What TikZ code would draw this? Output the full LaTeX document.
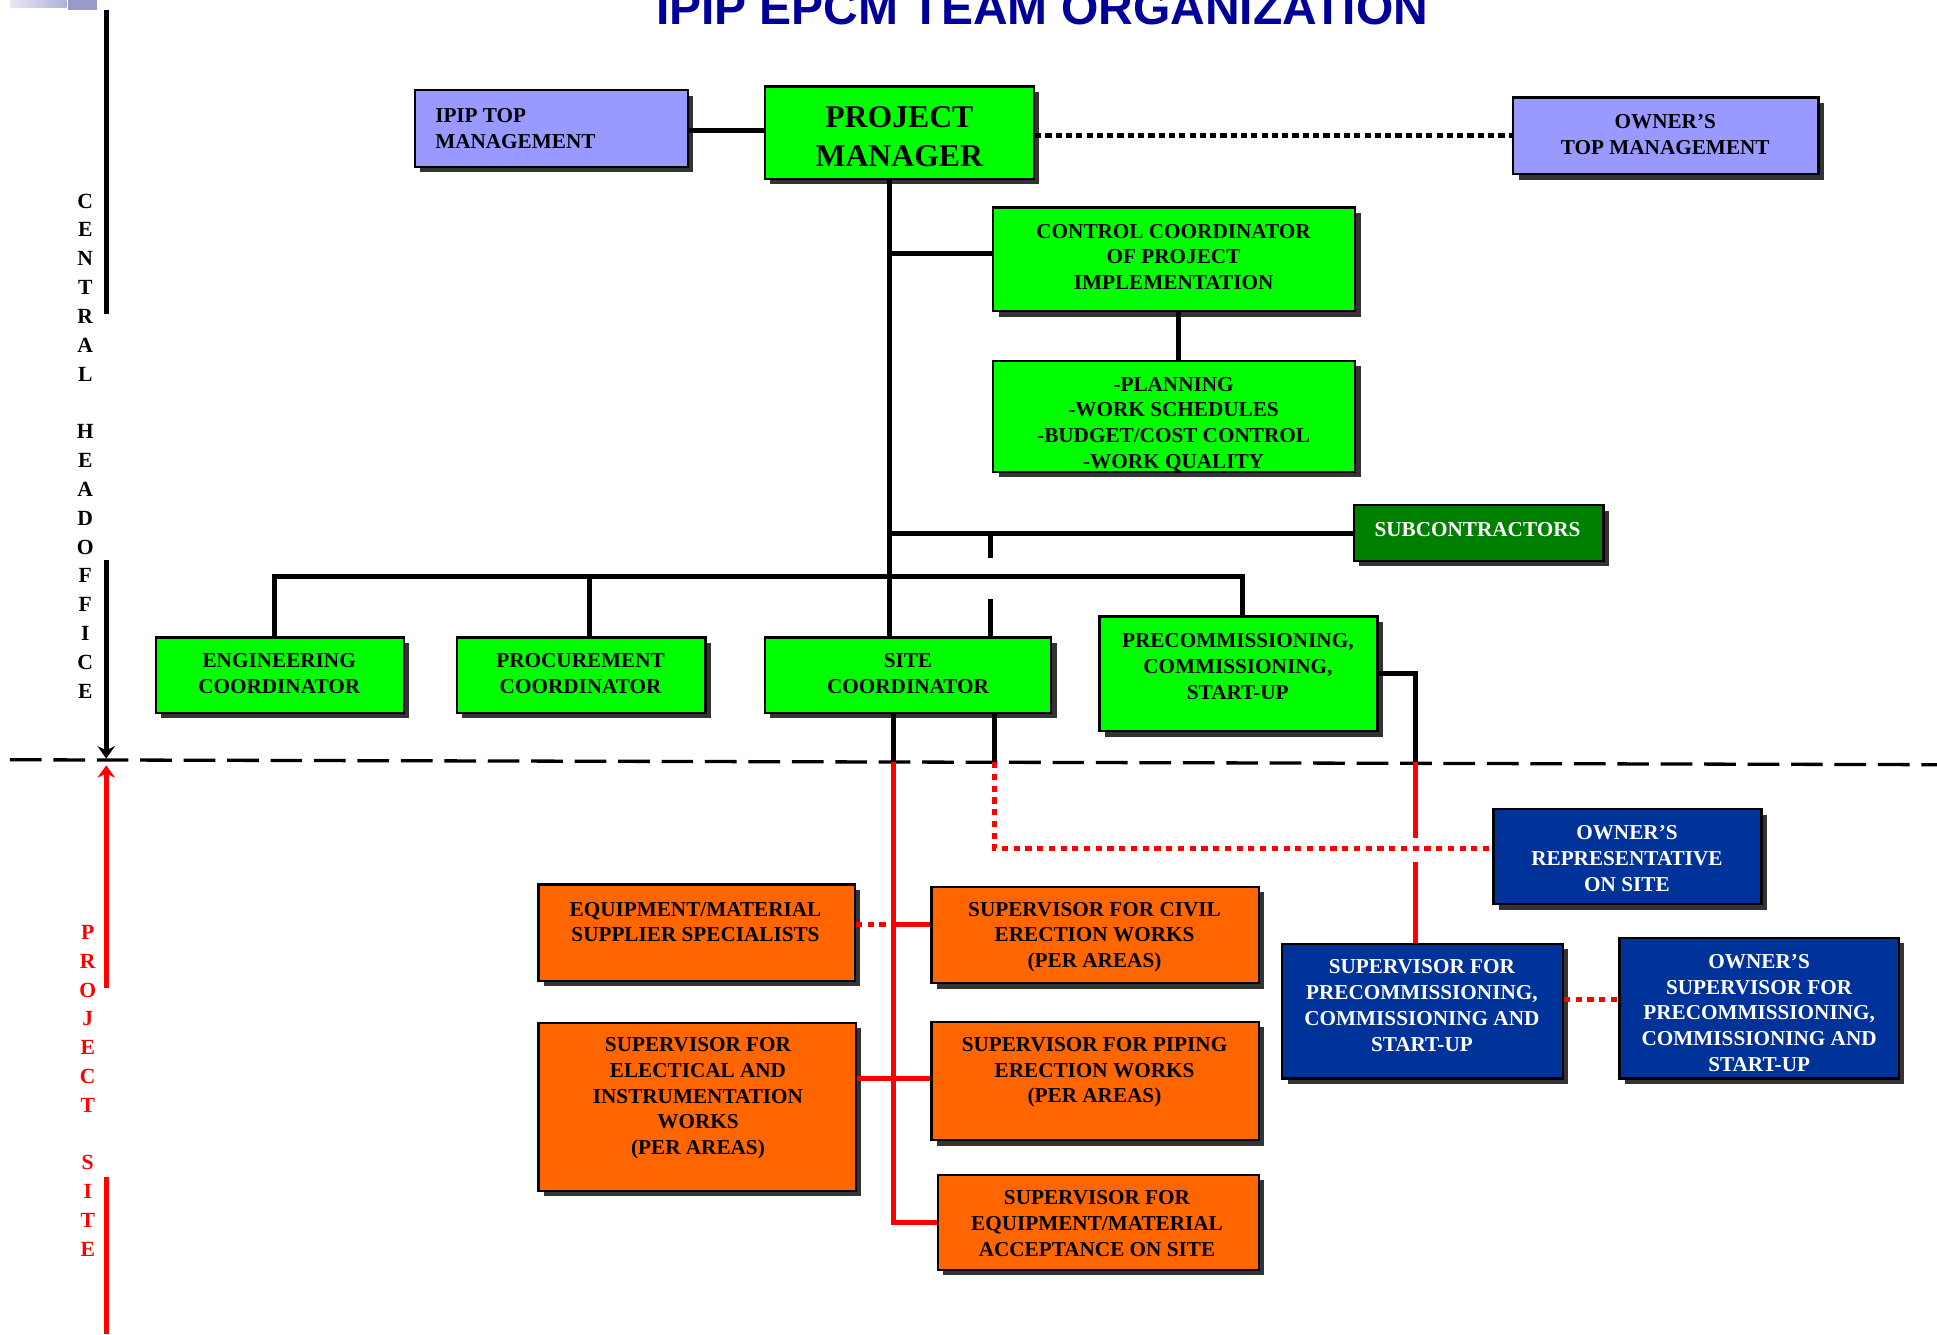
\documentclass[tikz,border=0pt]{standalone}
\usepackage{fontspec}
\setmainfont{Liberation Serif}
\newfontfamily\titlefont{Liberation Sans}
\usetikzlibrary{arrows.meta,shadows,fit}
\definecolor{lav}{HTML}{9999FF}
\definecolor{bgreen}{HTML}{00FF00}
\definecolor{dgreen}{HTML}{008000}
\definecolor{orng}{HTML}{FF6600}
\definecolor{oblue}{HTML}{003399}
\definecolor{tblue}{HTML}{000099}
\definecolor{shad}{HTML}{333333}
\definecolor{ored}{HTML}{FF0000}
\definecolor{decoA}{HTML}{E8E8F6}
\definecolor{decoB}{HTML}{B0B0DC}
\definecolor{decoC}{HTML}{9999CC}
\begin{document}
\begin{tikzpicture}[x=0.6pt,y=-0.6pt,
  orgbox/.style={draw=black, line width=1.1pt, inner sep=0pt,
    drop shadow={shadow xshift=2.6pt, shadow yshift=-2.6pt, fill=shad, opacity=1}},
  gbox/.style={orgbox, fill=bgreen},
  lbox/.style={orgbox, fill=lav},
  dbox/.style={orgbox, fill=dgreen},
  obox/.style={orgbox, fill=orng},
  bbox/.style={orgbox, fill=oblue},
  txt/.style={font={\fontsize{10.3}{12.5}\selectfont\bfseries}, align=center, inner sep=0pt},
  wtxt/.style={txt, text=white},
  bigtxt/.style={font={\fontsize{15.4}{18.6}\selectfont\bfseries}, align=center, inner sep=0pt},
  sidetxt/.style={font={\fontsize{10.5}{14}\selectfont\bfseries}, align=center, inner sep=0pt},
  conn/.style={line width=2.4pt, black},
  rconn/.style={line width=2.4pt, ored},
  bdot/.style={line width=2.4pt, black, dash pattern=on 3pt off 2pt},
  rdot/.style={line width=2.4pt, ored, dash pattern=on 3pt off 2.7pt},
  sepline/.style={line width=1.6pt, black, dash pattern=on 15.4pt off 5.7pt},
]
\useasboundingbox (0,0) rectangle (1568,1080);
\clip (0,0) rectangle (1568,1080);

% decoration top-left
\shade[left color=decoA, right color=decoB] (8,0) rectangle (54,5.7);
\fill[decoC] (55,0) rectangle (78.5,8);

% title
\node[font={\titlefont\bfseries\fontsize{23.3}{28}\selectfont}, text=tblue, anchor=base, inner sep=0pt] (title) at (843.5,20) {IPIP EPCM TEAM ORGANIZATION};

% boxes
\node[lbox, fit={(336,73) (557,135)}] (ipip) {};
\node[gbox, fit={(619,70) (837,145)}] (pm) {};
\node[lbox, fit={(1225,79) (1472,141)}] (otm) {};
\node[gbox, fit={(804,168) (1097,252)}] (ctrl) {};
\node[gbox, fit={(804,292) (1097,382)}] (plan) {};
\node[dbox, fit={(1096,409) (1298,454)}] (sub) {};
\node[gbox, fit={(126,516) (327,577)}] (eng) {};
\node[gbox, fit={(370,516) (571,577)}] (proc) {};
\node[gbox, fit={(619,516) (851,577)}] (site) {};
\node[gbox, fit={(890,499) (1115,592)}] (pre) {};
\node[bbox, fit={(1209,655) (1426,732)}] (orep) {};
\node[obox, fit={(436,716) (692,794)}] (esup) {};
\node[obox, fit={(754,718) (1019,796)}] (civ) {};
\node[obox, fit={(436,828) (693,964)}] (elec) {};
\node[obox, fit={(754,827) (1019,923)}] (pip) {};
\node[obox, fit={(759,951) (1019,1028)}] (eacc) {};
\node[bbox, fit={(1038,764) (1265,873)}] (spre) {};
\node[bbox, fit={(1311,759) (1537,873)}] (osup) {};

% texts
\node[txt, align=left, anchor=west] (ipip-t) at (352,104) {IPIP TOP\\MANAGEMENT};
\node[bigtxt] (pm-t) at (728,110.5) {PROJECT\\MANAGER};
\node[txt] (otm-t) at (1348,109) {OWNER’S\\TOP MANAGEMENT};
\node[txt] (ctrl-t) at (950,208) {CONTROL COORDINATOR\\OF PROJECT\\IMPLEMENTATION};
\node[txt] (plan-t) at (950,343.5) {-PLANNING\\-WORK SCHEDULES\\-BUDGET/COST CONTROL\\-WORK QUALITY};
\node[wtxt] (sub-t) at (1196,428.5) {SUBCONTRACTORS};
\node[txt] (eng-t) at (226,545.5) {ENGINEERING\\COORDINATOR};
\node[txt] (proc-t) at (470,545.5) {PROCUREMENT\\COORDINATOR};
\node[txt] (site-t) at (735,545) {SITE\\COORDINATOR};
\node[txt] (pre-t) at (1002,539.5) {PRECOMMISSIONING,\\COMMISSIONING,\\START-UP};
\node[wtxt] (orep-t) at (1317,695) {OWNER’S\\REPRESENTATIVE\\ON SITE};
\node[txt] (esup-t) at (563,746.5) {EQUIPMENT/MATERIAL\\SUPPLIER SPECIALISTS};
\node[txt] (civ-t) at (886,758.5) {SUPERVISOR FOR CIVIL\\ERECTION WORKS\\(PER AREAS)};
\node[txt] (elec-t) at (565,889) {SUPERVISOR FOR\\ELECTICAL AND\\INSTRUMENTATION\\WORKS\\(PER AREAS)};
\node[txt] (pip-t) at (886,868) {SUPERVISOR FOR PIPING\\ERECTION WORKS\\(PER AREAS)};
\node[txt] (eacc-t) at (888,990.5) {SUPERVISOR FOR\\EQUIPMENT/MATERIAL\\ACCEPTANCE ON SITE};
\node[wtxt] (spre-t) at (1151,814) {SUPERVISOR FOR\\PRECOMMISSIONING,\\COMMISSIONING AND\\START-UP};
\node[wtxt] (osup-t) at (1424,820) {OWNER’S\\SUPERVISOR FOR\\PRECOMMISSIONING,\\COMMISSIONING AND\\START-UP};

% side labels
\node[sidetxt] (cho) at (69,361) {C\\E\\N\\T\\R\\A\\L\\[14pt]H\\E\\A\\D\\O\\F\\F\\I\\C\\E};
\node[sidetxt, text=ored] (psite) at (71,883) {P\\R\\O\\J\\E\\C\\T\\[14pt]S\\I\\T\\E};

% helper coordinates
\coordinate (trunkx) at (720,0);
\coordinate (cpx) at (954,0);
\coordinate (ctrly) at (0,205);
\coordinate (iy) at (0,106);
\coordinate (oy) at (0,110);
\coordinate (stubx) at (801.5,0);
\coordinate (gapt) at (0,452);
\coordinate (gapb) at (0,485);
\coordinate (d1) at (222,467);
\coordinate (d2) at (477,467);
\coordinate (d3) at (1006,467);
\coordinate (sx1) at (723,0);
\coordinate (sx2) at (805,0);
\coordinate (px) at (1146,0);
\coordinate (sepy) at (0,617);
\coordinate (orepy) at (0,687);
\coordinate (pgapa) at (0,678);
\coordinate (pgapb) at (0,698);
\coordinate (civy) at (0,748);
\coordinate (ely) at (0,873);
\coordinate (sy) at (0,809);
\coordinate (sepA) at (8,615);
\coordinate (sepB) at (1568,619);
\coordinate (L1) at (86,8);
\coordinate (L2) at (86,254);
\coordinate (L3) at (86,453);
\coordinate (L4) at (86,614);
\coordinate (L5) at (86,619.5);
\coordinate (L6) at (86,800);
\coordinate (L7) at (86,953);
\coordinate (L8) at (86,1080);

% separator
\draw[sepline] (sepA) -- (sepB);

% left markers
\draw[line width=2.6pt] (L1) -- (L2);
\draw[line width=2.6pt, -{Stealth[length=6pt,width=8.5pt,inset=2pt]}] (L3) -- (L4);
\draw[line width=2.6pt, ored, -{Stealth[length=6pt,width=8.5pt,inset=2pt]}] (L6) -- (L5);
\draw[line width=2.6pt, ored] (L7) -- (L8);

% top connectors
\draw[conn] (ipip.east |- iy) -- (pm.west |- iy);
\draw[bdot] (pm.east |- oy) -- (otm.west |- oy);
\draw[conn] (pm.south -| trunkx) -- (site.north -| trunkx);
\draw[conn] (trunkx |- ctrly) -- (ctrl.west |- ctrly);
\draw[conn] (ctrl.south -| cpx) -- (plan.north -| cpx);
\draw[conn] (trunkx |- sub.west) -- (sub.west);
\draw[conn] (stubx |- sub.west) -- (stubx |- gapt);
\draw[conn] (stubx |- gapb) -- (site.north -| stubx);
\draw[conn] (eng.north -| d1) -- (d1) -- (d3) -- (pre.north -| d3);
\draw[conn] (d2) -- (proc.north -| d2);

% site connectors
\draw[conn] (site.south -| sx1) -- (sx1 |- sepy);
\draw[rconn] (sx1 |- sepy) -- (sx1 |- eacc.west) -- (eacc.west);
\draw[conn] (site.south -| sx2) -- (sx2 |- sepy);
\draw[rdot] (sx2 |- sepy) -- (sx2 |- orepy) -- (orep.west |- orepy);
\draw[conn] (pre.east) -| (px |- sepy);
\draw[rconn] (px |- sepy) -- (px |- pgapa);
\draw[rconn] (px |- pgapb) -- (spre.north -| px);
\draw[rconn] (sx1 |- civy) -- (civ.west |- civy);
\draw[rdot] (esup.east |- civy) -- (sx1 |- civy);
\draw[rconn] (elec.east |- ely) -- (pip.west |- ely);
\draw[rdot] (spre.east |- sy) -- (osup.west |- sy);
\end{tikzpicture}
\end{document}
